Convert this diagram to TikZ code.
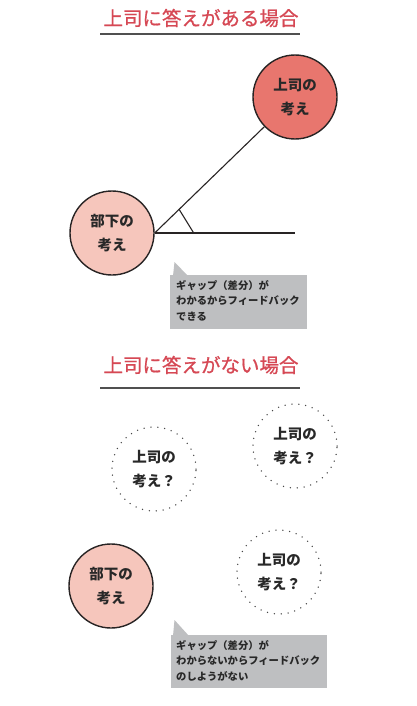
\documentclass[tikz,border=0pt]{standalone}
\usepackage{fontspec}
\setmainfont{Noto Sans CJK JP}
\newfontfamily\titlefont[FakeBold=0.8]{Noto Sans CJK JP}
\usetikzlibrary{calc}
\definecolor{titlered}{RGB}{214,72,84}
\definecolor{ulgray}{RGB}{80,80,80}
\definecolor{bossfill}{RGB}{232,118,110}
\definecolor{subfill}{RGB}{246,198,188}
\definecolor{circ}{RGB}{40,36,36}
\definecolor{txt}{RGB}{40,40,40}
\definecolor{dotc}{RGB}{70,70,70}
\definecolor{bubgray}{RGB}{190,191,193}
\begin{document}
\begin{tikzpicture}[x=1pt,y=-1pt,
  title/.style={text=titlered, inner sep=0pt, font=\titlefont\fontsize{19.5}{21}\selectfont},
  uline/.style={draw=ulgray, line width=1.4pt},
  idea/.style={circle, draw=circ, line width=1.4pt, minimum size=84pt, inner sep=0pt, align=center, text=txt, font=\bfseries\fontsize{14.5}{24}\selectfont},
  boss/.style={idea, fill=bossfill},
  sub/.style={idea, fill=subfill},
  guess/.style={circle, draw=dotc, line width=1.5pt, line cap=round, dash pattern=on 0pt off 6.9pt, minimum size=84pt, inner sep=0pt, align=center, text=txt, font=\bfseries\fontsize{14.5}{24}\selectfont},
  link/.style={draw=circ, line width=1.1pt},
  bubble/.style={fill=bubgray},
  bubtext/.style={anchor=north west, align=left, inner sep=0pt, text=txt, font=\bfseries\fontsize{10.3}{15.5}\selectfont}
]
\useasboundingbox (0,0) rectangle (417,706);
\fill[white] (0,0) rectangle (417,706);

% ---- section 1
\node[title] (t1) at (201,18) {上司に答えがある場合};
\coordinate (u1a) at (100,34);
\coordinate (u1b) at (300,34);
\draw[uline] (u1a) -- (u1b);

\node[boss] (j1) at (295,97) {上司の\\考え};
\node[sub] (b1) at (112,233) {部下の\\考え};
\coordinate (h1) at (295,233);
\draw[link] (b1.east) -- (j1);
\draw[link] (b1.east) -- (h1);
\coordinate (m1) at ($(b1.east)!34pt!(j1.center)$);
\coordinate (m2) at ($(b1.east)!39pt!(h1)$);
\draw[link] (m1) -- (m2);

\fill[bubble] (170,275) rectangle (307,329);
\fill[bubble] (173,276) -- (174.5,262) -- (188,276) -- cycle;
\node[bubtext] (c1) at (176,280) {ギャップ（差分）が\\わかるからフィードバック\\できる};

% ---- section 2
\node[title] (t2) at (201,365) {上司に答えがない場合};
\coordinate (u2a) at (100,388);
\coordinate (u2b) at (300,388);
\draw[uline] (u2a) -- (u2b);

\node[guess] (g1) at (154,469) {上司の\\考え？};
\node[guess] (g2) at (295,446) {上司の\\考え？};
\node[guess] (g3) at (279,572) {上司の\\考え？};
\node[sub] (b2) at (111,586) {部下の\\考え};

\fill[bubble] (171,635) rectangle (327,688);
\fill[bubble] (173,636) -- (174.5,620) -- (189,636) -- cycle;
\node[bubtext] (c2) at (176,640) {ギャップ（差分）が\\わからないからフィードバック\\のしようがない};
\end{tikzpicture}
\end{document}
